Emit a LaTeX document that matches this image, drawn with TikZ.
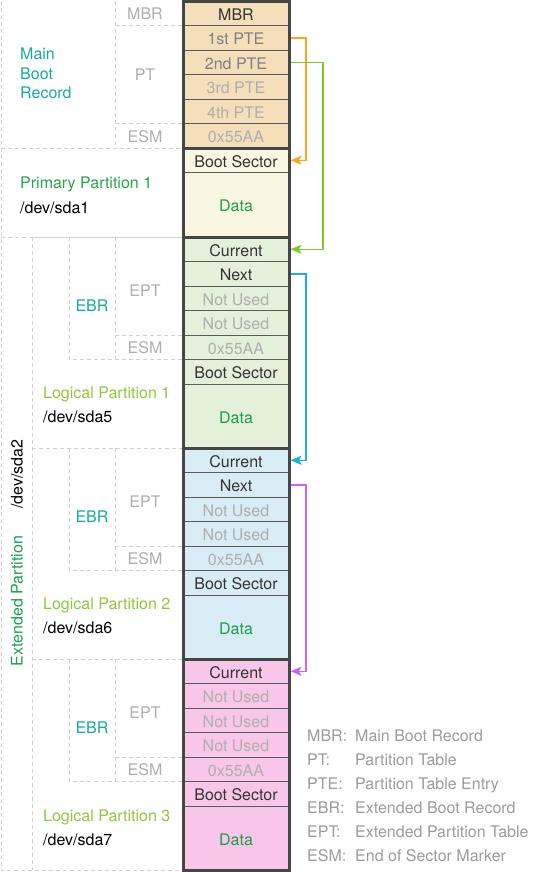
\documentclass[tikz,border=0pt]{standalone}
\usepackage{fontspec}
\setmainfont{TeX Gyre Heros}
\usetikzlibrary{arrows.meta}
\definecolor{mbrfill}{HTML}{F5DFBA}
\definecolor{prifill}{HTML}{F9F6E1}
\definecolor{lafill}{HTML}{E3F0DA}
\definecolor{lbfill}{HTML}{D8ECF6}
\definecolor{lcfill}{HTML}{F8C6E8}
\definecolor{bordercol}{HTML}{464646}
\definecolor{sepcol}{HTML}{5A5A5A}
\definecolor{darktext}{HTML}{333333}
\definecolor{midtext}{HTML}{808080}
\definecolor{lighttext}{HTML}{AEAEAE}
\definecolor{datagreen}{HTML}{1E9E4A}
\definecolor{prigreen}{HTML}{29A54A}
\definecolor{extgreen}{HTML}{1BA04E}
\definecolor{loggreen}{HTML}{8CC83F}
\definecolor{tealcol}{HTML}{17A99C}
\definecolor{guidecol}{HTML}{D2D2CC}
\definecolor{legendcol}{HTML}{9B9B9B}
\definecolor{arrorange}{HTML}{F7A823}
\definecolor{arrgreen}{HTML}{7CCB2E}
\definecolor{arrcyan}{HTML}{1BB0D8}
\definecolor{arrpurple}{HTML}{CC66EE}
\newcommand{\fs}{\fontsize{16}{19.5}\selectfont}
\begin{document}
\begin{tikzpicture}[x=1pt,y=-1pt,
  cell/.style={rectangle, draw=sepcol, line width=1pt, minimum width=106pt,
    minimum height=24.5pt, inner sep=0pt, outer sep=0pt, anchor=north,
    font=\fs, text height=14.4pt, text depth=0pt, text=darktext},
  datacell/.style={cell, minimum height=64pt, text=datagreen},
  mid/.style={text=midtext},
  light/.style={text=lighttext},
  secborder/.style={draw=bordercol, line width=3pt},
  guide/.style={draw=guidecol, dash pattern=on 4pt off 3pt, line width=0.8pt},
  lab/.style={font=\fs, text=lighttext, inner sep=0pt, text height=11.5pt, text depth=0pt},
  side/.style={font=\fs, inner sep=0pt, anchor=west, text height=11.5pt, text depth=0pt},
  arr/.style={line width=1.5pt, -{Stealth[length=11pt,width=9pt,inset=2.5pt]}, shorten >=1.5pt},
  legend/.style={font=\fs, text=legendcol, inner sep=0pt, anchor=west, text height=11.5pt, text depth=0pt}
]
\useasboundingbox (0,0) rectangle (539,873);

% ---------- guides ----------
\draw[guide] (1,1) -- (1,870) -- (182,870);
\draw[guide] (115,1) -- (115,148);
\draw[guide] (115,25.5) -- (182,25.5);
\draw[guide] (115,123.5) -- (182,123.5);
\draw[guide] (1,148) -- (182,148);
\draw[guide] (1,237) -- (182,237);
\draw[guide] (32,237) -- (32,870);
\foreach \t in {237,448,659}{
  \draw[guide] (32,\t) -- (182,\t);
  \draw[guide] (69,\t) -- (69,\t+122.5) -- (182,\t+122.5);
  \draw[guide] (115,\t) -- (115,\t+122.5);
  \draw[guide] (115,\t+98) -- (182,\t+98);
}

% ---------- MBR ----------
\node[cell, fill=mbrfill] (m0) at (236,1) {MBR};
\node[cell, fill=mbrfill, mid] (m1) at (236,25.5) {1st PTE};
\node[cell, fill=mbrfill, mid] (m2) at (236,50) {2nd PTE};
\node[cell, fill=mbrfill, light] (m3) at (236,74.5) {3rd PTE};
\node[cell, fill=mbrfill, light] (m4) at (236,99) {4th PTE};
\node[cell, fill=mbrfill, light] (m5) at (236,123.5) {0x55AA};
% ---------- Primary ----------
\node[cell, fill=prifill] (p0) at (236,148) {Boot Sector};
\node[datacell, fill=prifill, minimum height=64.5pt] (p1) at (236,172.5) {Data};
% ---------- Logical 1 ----------
\node[cell, fill=lafill] (a0) at (236,237) {Current};
\node[cell, fill=lafill] (a1) at (236,261.5) {Next};
\node[cell, fill=lafill, light] (a2) at (236,286) {Not Used};
\node[cell, fill=lafill, light] (a3) at (236,310.5) {Not Used};
\node[cell, fill=lafill, light] (a4) at (236,335) {0x55AA};
\node[cell, fill=lafill] (a5) at (236,359.5) {Boot Sector};
\node[datacell, fill=lafill] (a6) at (236,384) {Data};
% ---------- Logical 2 ----------
\node[cell, fill=lbfill] (b0) at (236,448) {Current};
\node[cell, fill=lbfill] (b1) at (236,472.5) {Next};
\node[cell, fill=lbfill, light] (b2) at (236,497) {Not Used};
\node[cell, fill=lbfill, light] (b3) at (236,521.5) {Not Used};
\node[cell, fill=lbfill, light] (b4) at (236,546) {0x55AA};
\node[cell, fill=lbfill] (b5) at (236,570.5) {Boot Sector};
\node[datacell, fill=lbfill] (b6) at (236,595) {Data};
% ---------- Logical 3 ----------
\node[cell, fill=lcfill] (c0) at (236,659) {Current};
\node[cell, fill=lcfill, light] (c1) at (236,683.5) {Not Used};
\node[cell, fill=lcfill, light] (c2) at (236,708) {Not Used};
\node[cell, fill=lcfill, light] (c3) at (236,732.5) {Not Used};
\node[cell, fill=lcfill, light] (c4) at (236,757) {0x55AA};
\node[cell, fill=lcfill] (c5) at (236,781.5) {Boot Sector};
\node[datacell, fill=lcfill] (c6) at (236,806) {Data};

% ---------- arrows ----------
\draw[arr, arrorange] (m1.east) -- ++(17,0) |- (p0.east);
\draw[arr, arrgreen] (m2.east) -- ++(34,0) |- (a0.east);
\draw[arr, arrcyan] (a1.east) -- ++(17,0) |- (b0.east);
\draw[arr, arrpurple] (b1.east) -- ++(17,0) |- (c0.east);

% ---------- section borders ----------
\draw[secborder] (m0.north west) rectangle (m5.south east);
\draw[secborder] (p0.north west) rectangle (p1.south east);
\draw[secborder] (a0.north west) rectangle (a6.south east);
\draw[secborder] (b0.north west) rectangle (b6.south east);
\draw[secborder] (c0.north west) rectangle (c6.south east);

% ---------- left labels ----------
\node[lab] (lmbr) at (145,14) {MBR};
\node[lab] (lpt) at (145,75) {PT};
\node[lab] (lesm) at (145,136.5) {ESM};
\node[side, text=tealcol, align=left, text height=, text depth=] (mbrname) at (20,73.5) {Main\\Boot\\Record};
\node[side, text=prigreen] (priname) at (20,183) {Primary Partition 1};
\node[side, text=black] (pridev) at (20,208) {/dev/sda1};

\node[lab] (ept1) at (145,291) {EPT};
\node[lab] (esm1) at (145,348) {ESM};
\node[lab, text=tealcol] (ebr1) at (92,306) {EBR};
\node[side, text=loggreen] (log1) at (43,393) {Logical Partition 1};
\node[side, text=black] (dev1) at (43,417) {/dev/sda5};

\node[lab] (ept2) at (145,502) {EPT};
\node[lab] (esm2) at (145,559) {ESM};
\node[lab, text=tealcol] (ebr2) at (92,517) {EBR};
\node[side, text=loggreen] (log2) at (43,604) {Logical Partition 2};
\node[side, text=black] (dev2) at (43,628) {/dev/sda6};

\node[lab] (ept3) at (145,713) {EPT};
\node[lab] (esm3) at (145,770) {ESM};
\node[lab, text=tealcol] (ebr3) at (92,728) {EBR};
\node[side, text=loggreen] (log3) at (43,816) {Logical Partition 3};
\node[side, text=black] (dev3) at (43,840) {/dev/sda7};

\node[font=\fs, inner sep=0pt, rotate=90, text=black] (extdev) at (17,474) {/dev/sda2};
\node[font=\fs, inner sep=0pt, rotate=90, text=extgreen] (extname) at (17,601) {Extended Partition};

% ---------- legend ----------
\node[legend] (k1) at (307,736) {MBR:};
\node[legend] (v1) at (355,736) {Main Boot Record};
\node[legend] (k2) at (307,760) {PT:};
\node[legend] (v2) at (355,760) {Partition Table};
\node[legend] (k3) at (307,784) {PTE:};
\node[legend] (v3) at (355,784) {Partition Table Entry};
\node[legend] (k4) at (307,808) {EBR:};
\node[legend] (v4) at (355,808) {Extended Boot Record};
\node[legend] (k5) at (307,832) {EPT:};
\node[legend] (v5) at (355,832) {Extended Partition Table};
\node[legend] (k6) at (307,856) {ESM:};
\node[legend] (v6) at (355,856) {End of Sector Marker};
\end{tikzpicture}
\end{document}
